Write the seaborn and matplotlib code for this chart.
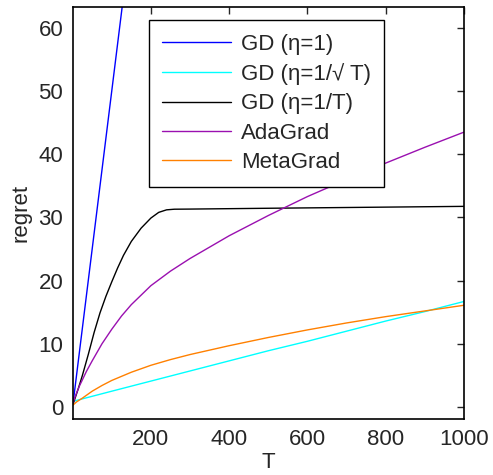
import numpy as np
import pandas as pd
import matplotlib
matplotlib.use("Agg")
import matplotlib.pyplot as plt
import seaborn as sns

# valores
t_eta1 = [1, 50, 100, 150]
gd_eta1 = [0.5, 25.0, 50.0, 75.0]

t_sqrt = [1, 100, 200, 300, 400, 500, 600, 700, 800, 900, 1000]
gd_sqrt = [0.9, 2.5, 4.1, 5.7, 7.3, 8.9, 10.4, 12.0, 13.6, 15.1, 16.7]

t_inv = [1, 8, 15, 25, 40, 55, 70, 85, 100, 115, 130, 150, 175, 200, 220, 240, 260, 300, 500, 750, 1000]
gd_inv = [0.4, 1.7, 3.0, 5.0, 8.3, 11.8, 14.9, 17.5, 19.8, 22.0, 24.0, 26.2, 28.3, 29.9, 30.8, 31.2, 31.3,
          31.32, 31.45, 31.6, 31.75]

t_ada = [1, 5, 10, 18, 25, 35, 50, 75, 100, 125, 150, 200, 250, 300, 400, 500, 600, 700, 800, 900, 1000]
adagrad = [0.5, 1.4, 2.2, 3.4, 4.3, 5.6, 7.3, 10.0, 12.3, 14.4, 16.2, 19.2, 21.5, 23.5, 27.1, 30.3, 33.3,
           36.0, 38.6, 41.1, 43.5]

t_meta = [1, 10, 25, 50, 75, 100, 150, 200, 250, 300, 400, 500, 600, 700, 800, 900, 1000]
metagrad = [0.3, 0.8, 1.4, 2.5, 3.4, 4.2, 5.5, 6.6, 7.5, 8.3, 9.7, 11.0, 12.2, 13.3, 14.3, 15.2, 16.1]

labels = ["GD (\u03b7=1)", "GD (\u03b7=1/\u221a T)", "GD (\u03b7=1/T)", "AdaGrad", "MetaGrad"]
cores = ["#0000ff", "#00ffff", "#000000", "#9a10b0", "#ff8000"]

series = [(t_eta1, gd_eta1), (t_sqrt, gd_sqrt), (t_inv, gd_inv), (t_ada, adagrad), (t_meta, metagrad)]
frames = []
for nome, (t, v) in zip(labels, series):
    frames.append(pd.DataFrame({"T": t, "regret": v, "metodo": nome}))
df = pd.concat(frames, ignore_index=True)

sns.set_style("white")
plt.rcParams['font.family'] = ['Liberation Sans', 'DejaVu Sans']

fig = plt.figure(figsize=(4.93, 4.75), dpi=100)
ax = fig.add_axes([73 / 493, 56 / 475, 391 / 493, 412 / 475])

sns.lineplot(data=df, x="T", y="regret", hue="metodo", palette=dict(zip(labels, cores)),
             hue_order=labels, linewidth=1.0, sort=False, estimator=None, ax=ax)

ax.set_xlim(1, 1000)
ax.set_ylim(-1.9, 63.3)
ax.set_xticks([200, 400, 600, 800, 1000])
ax.set_yticks([0, 10, 20, 30, 40, 50, 60])
ax.tick_params(direction="in", length=5, width=1, top=True, right=True, labelsize=16, pad=7)
for s in ax.spines.values():
    s.set_visible(True)
    s.set_color("black")
    s.set_linewidth(1.2)
ax.set_xlabel("T", fontsize=16, labelpad=2)
ax.set_ylabel("regret", fontsize=16, labelpad=5)

leg = ax.legend(loc="upper left", bbox_to_anchor=(0.194, 0.968), borderaxespad=0, fontsize=16,
                handlelength=3.1, handletextpad=0.45, labelspacing=0.38,
                borderpad=0.6, fancybox=False, framealpha=1, edgecolor="black")
leg.get_frame().set_linewidth(1.0)
for h in leg.get_lines():
    h.set_linewidth(1.0)

fig.savefig("out.png", dpi=100)
